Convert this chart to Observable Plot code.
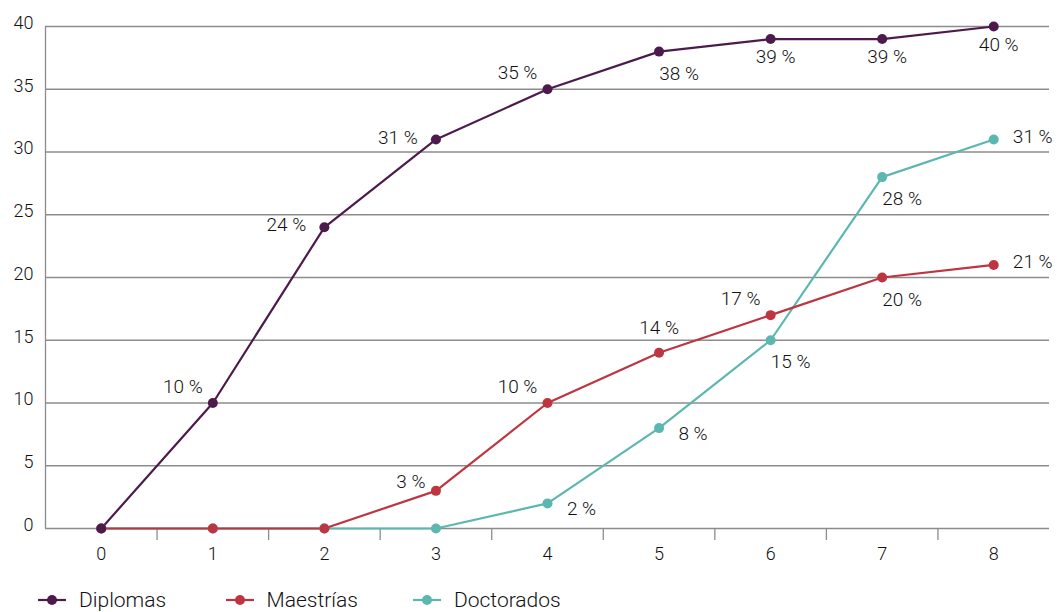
<!DOCTYPE html>
<html>
<head>
<meta charset="utf-8">
<script src="https://cdn.jsdelivr.net/npm/d3@7"></script>
<script src="https://cdn.jsdelivr.net/npm/@observablehq/plot@0.6"></script>
<style>
  html, body { margin: 0; padding: 0; background: #fff; }
  #chart svg { display: block; }
  #chart svg text { font-weight: 300; }
  .legend { display: flex; margin-top: 18px; height: 24px; padding-left: 38px; font-family: Roboto, sans-serif; font-weight: 300; font-size: 21px; color: #111; }
  .legend .item { display: flex; align-items: center; width: 187.5px; }
  .legend svg { margin-right: 13px; }
</style>
</head>
<body>
<div id="chart"></div>
<div class="legend" id="legend"></div>
<script>
// ---- data ----
const xValues = [0, 1, 2, 3, 4, 5, 6, 7, 8];
const diplomas   = [0, 10, 24, 31, 35, 38, 39, 39, 40];
const maestrias  = [0, 0, 0, 3, 10, 14, 17, 20, 21];
const doctorados = [0, 0, 0, 0, 2, 8, 15, 28, 31];
const seriesNames = ["Diplomas", "Maestrías", "Doctorados"];
const seriesColors = ["#4d1b4b", "#be3541", "#5cb7b1"];
const yTicks = [0, 5, 10, 15, 20, 25, 30, 35, 40];
// label placement codes per point (null = no label)
const placeDiplomas   = [null, "nw", "w", "w", "nw", "se", "s", "s", "s"];
const placeMaestrias  = [null, null, null, "wnw", "nw", "n", "nw", "se", "e"];
const placeDoctorados = [null, null, null, null, "ese", "ese", "se", "se", "e"];

const seriesValues = [diplomas, maestrias, doctorados];
const seriesPlaces = [placeDiplomas, placeMaestrias, placeDoctorados];

const rows = seriesNames.flatMap((s, i) =>
  xValues.map((x, j) => ({series: s, x, y: seriesValues[i][j], place: seriesPlaces[i][j]}))
);
// draw order: Doctorados, Maestrías, Diplomas
const drawOrder = ["Doctorados", "Maestrías", "Diplomas"];
const ordered = drawOrder.flatMap(s => rows.filter(r => r.series === s));

const offsets = {
  nw: [-30, -16], wnw: [-25, -9], w: [-38, -2], n: [0, -25], s: [5, 18],
  se: [20, 22], e: [39, -3], ese: [34, 6]
};

const gridColor = "#8c8c8c";
const halfTicks = xValues.slice(0, -1).map(x => x + 0.5);

const labelMarks = Object.entries(offsets).map(([code, [dx, dy]]) =>
  Plot.text(rows.filter(r => r.place === code), {
    x: "x", y: "y", text: d => `${d.y} %`, dx, dy,
    fill: "#111", fontSize: 19, textAnchor: "middle"
  })
);

const chart = Plot.plot({
  width: 1057,
  height: 570,
  marginLeft: 45,
  marginRight: 8,
  marginTop: 26,
  marginBottom: 42,
  x: {domain: [-0.5, 8.5]},
  y: {domain: [0, 40]},
  color: {domain: seriesNames, range: seriesColors},
  style: {fontFamily: "Roboto, sans-serif", fontSize: "18px", color: "#111", background: "#fff"},
  marks: [
    Plot.gridY(yTicks.filter(d => d > 0), {stroke: gridColor, strokeOpacity: 1, strokeWidth: 1.3}),
    Plot.ruleX([-0.5], {stroke: gridColor, strokeWidth: 1.3}),
    Plot.ruleY([0], {stroke: gridColor, strokeWidth: 1.3}),
    Plot.axisX({ticks: halfTicks, tickSize: 12, tickFormat: () => "", label: null, stroke: gridColor, strokeWidth: 1.3, strokeOpacity: 1}),
    Plot.axisX({ticks: xValues, tickSize: 0, tickPadding: 19, label: null, tickFormat: d => String(d), fill: "#111"}),
    Plot.axisY({ticks: yTicks, tickSize: 0, tickPadding: 12, dy: -3.5, label: null, tickFormat: d => String(d), fill: "#111"}),
    Plot.line(ordered, {x: "x", y: "y", z: "series", stroke: "series", strokeWidth: 2.2}),
    Plot.dot(ordered, {x: "x", y: "y", fill: "series", r: 5}),
    ...labelMarks
  ]
});
document.getElementById("chart").appendChild(chart);

// legend
const legend = document.getElementById("legend");
seriesNames.forEach((name, i) => {
  const item = document.createElement("div");
  item.className = "item";
  item.innerHTML = `<svg width="28" height="12"><line x1="0" y1="6" x2="28" y2="6" stroke="${seriesColors[i]}" stroke-width="2.2"/><circle cx="14" cy="6" r="5" fill="${seriesColors[i]}"/></svg><span>${name}</span>`;
  legend.appendChild(item);
});
</script>
</body>
</html>
